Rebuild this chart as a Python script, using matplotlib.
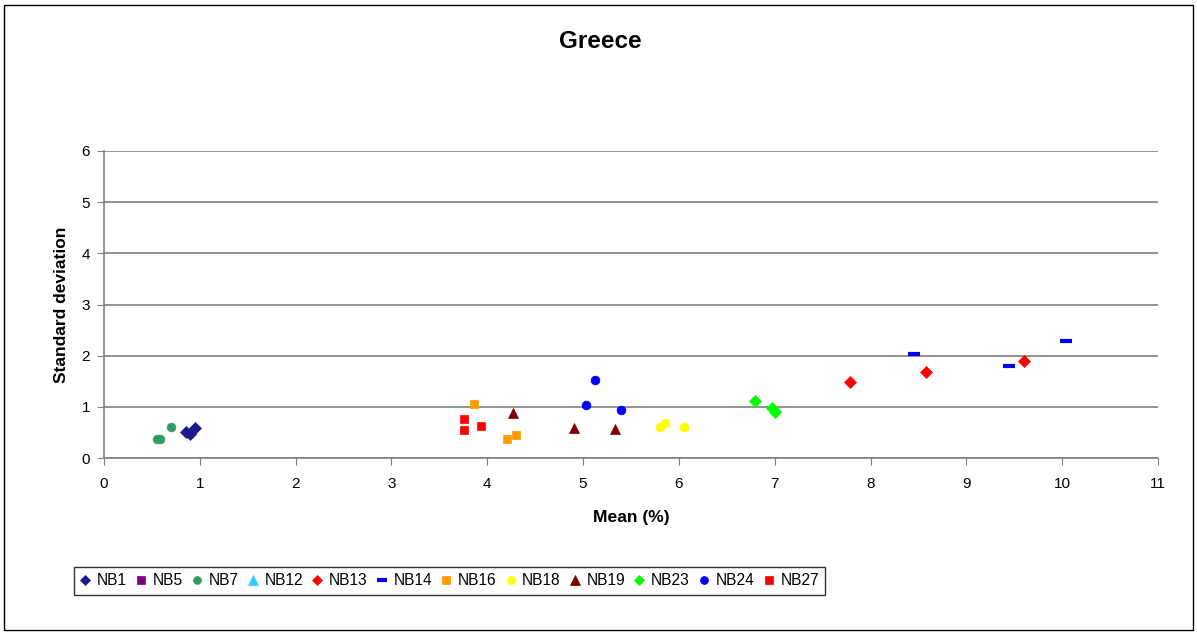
import matplotlib
matplotlib.use("Agg")
import matplotlib.pyplot as plt
from matplotlib.patches import Rectangle

plt.rcParams['font.family'] = ['Liberation Sans', 'DejaVu Sans']

series_names = ["NB1", "NB5", "NB7", "NB12", "NB13", "NB14", "NB16", "NB18", "NB19", "NB23", "NB24", "NB27"]
nb1_x = [0.86, 0.90, 0.95]
nb1_y = [0.50, 0.47, 0.58]
nb5_x = []
nb5_y = []
nb7_x = [0.55, 0.58, 0.70]
nb7_y = [0.38, 0.38, 0.60]
nb12_x = []
nb12_y = []
nb13_x = [7.79, 8.58, 9.60]
nb13_y = [1.48, 1.69, 1.90]
nb14_x = [8.45, 9.45, 10.04]
nb14_y = [2.04, 1.80, 2.29]
nb16_x = [3.86, 4.21, 4.30]
nb16_y = [1.06, 0.38, 0.44]
nb18_x = [5.80, 5.86, 6.05]
nb18_y = [0.60, 0.69, 0.60]
nb19_x = [4.27, 4.90, 5.33]
nb19_y = [0.88, 0.58, 0.56]
nb23_x = [6.79, 6.97, 7.00]
nb23_y = [1.11, 0.98, 0.89]
nb24_x = [5.125, 5.03, 5.40]
nb24_y = [1.52, 1.03, 0.94]
nb27_x = [3.76, 3.76, 3.93]
nb27_y = [0.76, 0.54, 0.63]

xs = [nb1_x, nb5_x, nb7_x, nb12_x, nb13_x, nb14_x, nb16_x, nb18_x, nb19_x, nb23_x, nb24_x, nb27_x]
ys = [nb1_y, nb5_y, nb7_y, nb12_y, nb13_y, nb14_y, nb16_y, nb18_y, nb19_y, nb23_y, nb24_y, nb27_y]
colors = ["#1a1a8c", "#800080", "#339966", "#33CCFF", "#FF0000", "#0000FF",
          "#FF9900", "#FFFF00", "#800000", "#00FF00", "#0000FF", "#FF0000"]
markers = ["D", "s", "o", "^", "D", "_", "s", "o", "^", "D", "o", "s"]
msizes = [6.0, 6.0, 6.3, 7.5, 6.0, 8.0, 6.0, 6.3, 7.5, 6.0, 6.3, 6.0]

W, H = 1197, 634
fig = plt.figure(figsize=(W/100, H/100), dpi=100)
ax = fig.add_axes([104/W, 1-458/H, (1158-104)/W, (458-151)/H])

for name, x, y, c, m, ms in zip(series_names, xs, ys, colors, markers, msizes):
    kw = dict(linestyle='none', marker=m, color=c, markersize=ms, label=name,
              markeredgecolor=c, markerfacecolor=c, markeredgewidth=0.5)
    if m == "_":
        kw['markeredgewidth'] = 3
    ax.plot(x, y, **kw)

ax.set_xlim(0, 11)
ax.set_ylim(0, 6)
ax.set_xticks(range(0, 12))
ax.set_yticks(range(0, 7))
ax.yaxis.grid(True, color='#808080', linewidth=1.2)
ax.set_axisbelow(True)
for s in ['top', 'right']:
    ax.spines[s].set_visible(False)
for s in ['left', 'bottom']:
    ax.spines[s].set_color('#808080')
    ax.spines[s].set_linewidth(1.2)
ax.tick_params(axis='both', direction='out', length=5, color='#808080', labelsize=11)
ax.tick_params(axis='x', pad=8.5)
ax.tick_params(axis='y', pad=5)

fig.text(631/W, 1-522/H, "Mean (%)", ha='center', va='baseline', fontsize=12.6, fontweight='bold')
fig.text(61/W, 1-305/H, "Standard deviation", ha='center', va='center', rotation=90,
         fontsize=12.5, fontweight='bold')
fig.text(600/W, 1-48/H, "Greece", ha='center', va='baseline', fontsize=17.5, fontweight='bold')

leg = fig.legend(loc='lower left', bbox_to_anchor=(74/W, 1-595/H), ncol=12,
                 fontsize=11.2, frameon=True, fancybox=False, edgecolor='black',
                 handlelength=0.6, handletextpad=0.45, columnspacing=0.61, borderpad=0.42,
                 borderaxespad=0, markerscale=0.9)
leg.get_frame().set_linewidth(1.0)

fig.patches.append(Rectangle((4/W, 4/H), 1189/W, 625/H, transform=fig.transFigure,
                             fill=False, edgecolor='black', linewidth=1.0))

fig.savefig("out.png", dpi=100)
